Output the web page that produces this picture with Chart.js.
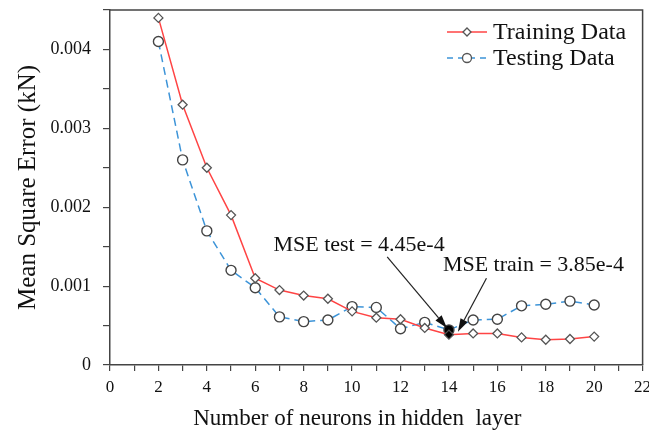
<!DOCTYPE html>
<html>
<head>
<meta charset="utf-8">
<script src="https://cdn.jsdelivr.net/npm/chart.js@4"></script>
<style>
  body { margin: 0; background: #fff; }
  #wrap { width: 649px; height: 430px; }
</style>
</head>
<body>
<div id="wrap"><canvas id="mseChart" width="649" height="430"></canvas></div>
<script>
// MSE vs hidden layer size
const neurons = [2, 3, 4, 5, 6, 7, 8, 9, 10, 11, 12, 13, 14, 15, 16, 17, 18, 19, 20];
const trainMse = [0.0044, 0.0033, 0.0025, 0.0019, 0.0011, 0.00095, 0.00088, 0.00084, 0.00068, 0.0006,
  0.00058, 0.00047, 0.000385, 0.0004, 0.0004, 0.00035, 0.00032, 0.00033, 0.00036];
const testMse = [0.0041, 0.0026, 0.0017, 0.0012, 0.00098, 0.00061, 0.00055, 0.00057, 0.00074, 0.00073,
  0.00046, 0.00054, 0.000445, 0.00057, 0.00058, 0.00075, 0.00077, 0.00081, 0.00076];
const seriesNames = ["Training Data", "Testing Data"];
const bestNeurons = 14;

const SERIF = "'Liberation Serif', 'Times New Roman', serif";
const AXIS_COLOR = "#444";
const RED = "#ff4444";
const BLUE = "#3d94d8";

const toPoints = ys => neurons.map((n, i) => ({ x: n, y: ys[i] }));
const bestFill = fallback => ctx => (ctx.raw && ctx.raw.x === bestNeurons ? "#000" : fallback);
const bestIdx = neurons.indexOf(bestNeurons);

// arrows + labels for the minimum errors (anchors in data units)
const notes = [
  { text: "MSE test = " + (testMse[bestIdx] * 1e4).toFixed(2) + "e-4",
    at: [6.75, 0.00144], from: [11.45, 0.00137], to: [bestNeurons, testMse[bestIdx]], dx: -2, dy: -2 },
  { text: "MSE train = " + (trainMse[bestIdx] * 1e4).toFixed(2) + "e-4",
    at: [13.75, 0.00119], from: [15.55, 0.0011], to: [bestNeurons, trainMse[bestIdx]], dx: 9, dy: -3 }
];

function drawArrow(ctx, x1, y1, x2, y2) {
  const ang = Math.atan2(y2 - y1, x2 - x1);
  const len = 13, half = 4;
  const bx = x2 - len * Math.cos(ang), by = y2 - len * Math.sin(ang);
  ctx.beginPath();
  ctx.moveTo(x1, y1);
  ctx.lineTo(bx, by);
  ctx.stroke();
  ctx.beginPath();
  ctx.moveTo(x2, y2);
  ctx.lineTo(bx + half * Math.sin(ang), by - half * Math.cos(ang));
  ctx.lineTo(bx - half * Math.sin(ang), by + half * Math.cos(ang));
  ctx.closePath();
  ctx.fill();
}

function legendMarker(ctx, style, x, y) {
  ctx.save();
  ctx.fillStyle = "#fff";
  ctx.strokeStyle = "#555";
  ctx.lineWidth = 1.3;
  ctx.beginPath();
  if (style === "rectRot") {
    ctx.moveTo(x, y - 4); ctx.lineTo(x + 4, y); ctx.lineTo(x, y + 4); ctx.lineTo(x - 4, y);
    ctx.closePath();
  } else {
    ctx.arc(x, y, 4.5, 0, Math.PI * 2);
  }
  ctx.fill();
  ctx.stroke();
  ctx.restore();
}

const extras = {
  id: "extras",
  beforeDatasetsDraw(chart) {
    const { ctx, chartArea: a } = chart;
    // top and right frame
    ctx.save();
    ctx.strokeStyle = AXIS_COLOR;
    ctx.lineWidth = 1.5;
    ctx.beginPath();
    ctx.moveTo(a.left, a.top);
    ctx.lineTo(a.right, a.top);
    ctx.lineTo(a.right, a.bottom);
    ctx.stroke();
    ctx.restore();
  },
  afterDraw(chart) {
    const { ctx, chartArea: a, scales } = chart;
    const xs = scales.x, ys = scales.y;
    ctx.save();

    // x axis title, sits a bit left of centre
    ctx.fillStyle = "#111";
    ctx.font = "23px " + SERIF;
    ctx.textAlign = "center";
    ctx.textBaseline = "alphabetic";
    ctx.fillText("Number of neurons in hidden  layer", (a.left + a.right) / 2 - 19, 425);

    // annotations
    ctx.font = "22px " + SERIF;
    ctx.textAlign = "left";
    ctx.strokeStyle = "#222";
    ctx.fillStyle = "#111";
    ctx.lineWidth = 1.2;
    notes.forEach(n => {
      ctx.fillText(n.text, xs.getPixelForValue(n.at[0]), ys.getPixelForValue(n.at[1]));
      drawArrow(ctx,
        xs.getPixelForValue(n.from[0]), ys.getPixelForValue(n.from[1]),
        xs.getPixelForValue(n.to[0]) + n.dx, ys.getPixelForValue(n.to[1]) + n.dy);
    });

    // legend
    const items = [
      { name: seriesNames[0], color: RED, dash: [], style: "rectRot", y: a.top + 22 },
      { name: seriesNames[1], color: BLUE, dash: [6, 5], style: "circle", y: a.top + 48 }
    ];
    ctx.font = "24px " + SERIF;
    ctx.textBaseline = "middle";
    items.forEach(it => {
      ctx.save();
      ctx.strokeStyle = it.color;
      ctx.lineWidth = 1.5;
      ctx.setLineDash(it.dash);
      ctx.beginPath();
      ctx.moveTo(447, it.y);
      ctx.lineTo(487, it.y);
      ctx.stroke();
      ctx.restore();
      legendMarker(ctx, it.style, 467, it.y);
      ctx.fillStyle = "#111";
      ctx.fillText(it.name, 493, it.y + 1);
    });
    ctx.restore();
  }
};

new Chart(document.getElementById("mseChart"), {
  type: "line",
  data: {
    datasets: [
      {
        label: seriesNames[0],
        data: toPoints(trainMse),
        borderColor: RED,
        borderWidth: 1.5,
        pointStyle: "rectRot",
        pointRadius: 4.5,
        pointBorderColor: "#555",
        pointBorderWidth: 1.3,
        pointBackgroundColor: bestFill("#fff"),
        tension: 0
      },
      {
        label: seriesNames[1],
        data: toPoints(testMse),
        borderColor: BLUE,
        borderWidth: 1.5,
        borderDash: [8, 5],
        pointStyle: "circle",
        pointRadius: 5,
        pointBorderColor: "#444",
        pointBorderWidth: 1.4,
        pointBackgroundColor: bestFill("#fff"),
        tension: 0
      }
    ]
  },
  options: {
    responsive: false,
    animation: false,
    layout: { padding: { top: 10, right: 6, left: 0, bottom: 0 } },
    plugins: {
      legend: { display: false },
      tooltip: { enabled: false }
    },
    scales: {
      x: {
        type: "linear",
        min: 0,
        max: 22,
        afterFit: s => { s.height = 65; s.paddingLeft = 0; s.paddingRight = 0; },
        ticks: {
          stepSize: 1,
          autoSkip: false,
          maxRotation: 0,
          padding: 6,
          color: "#111",
          font: { family: SERIF, size: 17 },
          callback: v => (v % 2 === 0 ? String(v) : "")
        },
        grid: { drawOnChartArea: false, tickLength: 6, color: AXIS_COLOR, lineWidth: 1.2 },
        border: { color: AXIS_COLOR, width: 1.5 }
      },
      y: {
        min: 0,
        max: 0.0045,
        afterFit: s => { s.width = 110; s.paddingTop = 0; s.paddingBottom = 0; },
        ticks: {
          stepSize: 0.0005,
          autoSkip: false,
          padding: 12,
          color: "#111",
          font: { family: SERIF, size: 18 },
          callback: v => {
            const k = Math.round(v * 10000);
            if (k % 10 !== 0) return "";
            return k === 0 ? "0" : (k / 10000).toFixed(3);
          }
        },
        grid: { drawOnChartArea: false, tickLength: 7, color: AXIS_COLOR, lineWidth: 1.2 },
        border: { color: AXIS_COLOR, width: 1.5 },
        title: {
          display: true,
          text: "Mean Square Error (kN)",
          color: "#111",
          font: { family: SERIF, size: 25 },
          padding: { top: 13, bottom: 0 }
        }
      }
    }
  },
  plugins: [extras]
});
</script>
</body>
</html>
